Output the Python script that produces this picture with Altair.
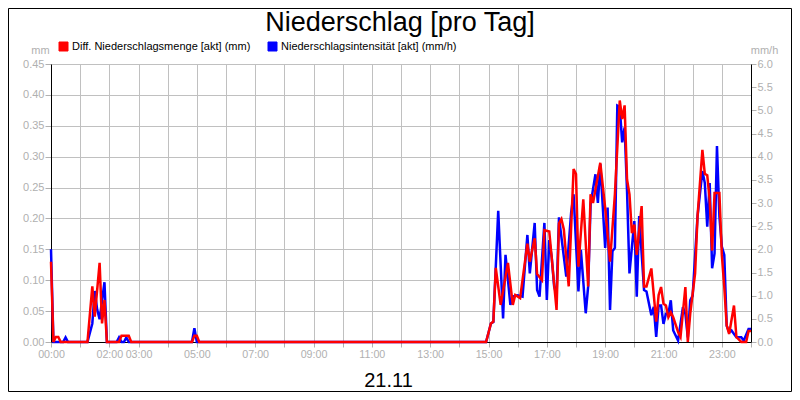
import altair as alt
import pandas as pd

TITLE = "Niederschlag [pro Tag]"
DATE_LABEL = "21.11"
RED = "Diff. Niederschlagsmenge [akt] (mm)"
BLUE = "Niederschlagsintensität [akt] (mm/h)"

# minutes since 00:00 and values (mm)
red_min = [0, 5, 10, 15, 20, 75, 85, 90, 100, 105, 110, 115, 140, 145, 160, 165,
           290, 295, 300, 305, 895, 905, 910, 915, 925, 940, 950, 955, 965, 980,
           985, 995, 1000, 1010, 1015, 1025, 1040, 1045, 1050, 1055, 1065, 1075,
           1080, 1085, 1095, 1105, 1110, 1115, 1130, 1140, 1150, 1160, 1170, 1175,
           1180, 1185, 1190, 1195, 1200, 1205, 1215, 1220, 1225, 1235, 1245, 1250,
           1255, 1260, 1265, 1270, 1275, 1280, 1290, 1295, 1305, 1310, 1315, 1325,
           1330, 1340, 1345, 1350, 1355, 1360, 1365, 1375, 1380, 1385, 1390, 1395,
           1405, 1410, 1420, 1430, 1435, 1440]
red_mm = [0.13, 0, 0.008, 0.008, 0, 0, 0.09, 0.041, 0.128, 0.030, 0.068, 0, 0, 0.01, 0.01, 0,
          0, 0.01, 0.01, 0, 0, 0.030, 0.033, 0.120, 0.060, 0.128, 0.060, 0.076, 0.071, 0.159,
          0.130, 0.168, 0.110, 0.100, 0.181, 0.179, 0.052, 0.192, 0.199, 0.182, 0.090, 0.280,
          0.272, 0.122, 0.231, 0.090, 0.239, 0.225, 0.290, 0.217, 0.130, 0.239, 0.391, 0.361,
          0.383, 0.263, 0.239, 0.176, 0.190, 0.141, 0.220, 0.090, 0.090, 0.119, 0.033, 0.076,
          0.089, 0.062, 0.059, 0.040, 0.048, 0.040, 0.016, 0.008, 0.089, 0, 0.046, 0.111,
          0.203, 0.311, 0.272, 0.270, 0.230, 0.148, 0.241, 0.241, 0.141, 0.089, 0.027, 0.013,
          0.059, 0.008, 0, 0, 0.018, 0.018]

# minutes since 00:00 and values (mm/h)
blue_min = [0, 5, 25, 30, 35, 75, 85, 90, 95, 100, 110, 115, 135, 140, 145, 150, 155, 160,
            290, 295, 300, 895, 905, 910, 920, 930, 935, 945, 950, 960, 970, 980, 985, 995,
            1000, 1005, 1015, 1020, 1025, 1030, 1035, 1040, 1045, 1060, 1070, 1075, 1085, 1090,
            1100, 1105, 1110, 1120, 1125, 1130, 1140, 1145, 1150, 1155, 1160, 1165, 1170,
            1175, 1180, 1185, 1190, 1200, 1205, 1210, 1220, 1225, 1235, 1240, 1245, 1250,
            1255, 1260, 1265, 1270, 1275, 1280, 1290, 1300, 1305, 1310, 1315, 1320, 1330,
            1340, 1345, 1350, 1355, 1360, 1365, 1370, 1375, 1380, 1385, 1390, 1395, 1400,
            1410, 1420, 1425, 1435, 1440]
blue_mmh = [2.0, 0, 0, 0.1, 0, 0, 0.4, 1.1, 0.7, 0.49, 1.29, 0, 0, 0.1, 0, 0, 0.1, 0,
            0, 0.3, 0, 0, 0.40, 0.43, 2.83, 0.51, 1.88, 0.80, 0.98, 1.01, 0.98, 2.31, 1.48, 2.57,
            1.12, 0.98, 2.57, 0.91, 2.2, 1.83, 1.2, 1.0, 2.69, 1.41, 2.79, 3.19, 1.09, 1.99,
            0.62, 1.20, 2.97, 3.62, 3.00, 3.84, 2.03, 2.90, 0.69, 1.96, 2.03, 5.10, 5.07,
            4.31, 4.63, 3.26, 1.48, 2.61, 0.98, 2.72, 1.12, 1.09, 0.58, 0.76, 0.11, 0.79,
            0.79, 0.39, 0.61, 0.61, 0.90, 0.25, 0.03, 0.75, 0.61, 0.10, 0.90, 1.0, 2.71,
            3.69, 3.43, 2.49, 3.43, 1.59, 1.91, 4.23, 2.71, 2.06, 1.88, 0.35, 0.21, 0.25,
            0.10, 0.10, 0.03, 0.28, 0.28]

x_tick_minutes = list(range(0, 1441, 60))
labelled_hours = [0, 2, 3, 5, 7, 9, 11, 13, 15, 17, 19, 21, 23]
left_ticks = [0.0, 0.05, 0.10, 0.15, 0.20, 0.25, 0.30, 0.35, 0.40, 0.45]
right_ticks = [0.0, 0.5, 1.0, 1.5, 2.0, 2.5, 3.0, 3.5, 4.0, 4.5, 5.0, 5.5, 6.0]

FONT = "Liberation Sans"
GRAY = "#b0b0b0"
GRID = "#c0c0c0"

df_r = pd.DataFrame({"t": red_min, "v": red_mm, "s": RED})
df_b = pd.DataFrame({"t": blue_min, "v": blue_mmh, "s": BLUE})
df_all = pd.concat([df_r, df_b], ignore_index=True)

hours_js = "[" + ",".join(str(h) for h in labelled_hours) + "]"
label_expr = (f"indexof({hours_js}, datum.value / 60) >= 0 ? "
              "(datum.value < 600 ? '0' : '') + toString(datum.value / 60) + ':00' : ''")

x_enc = alt.X(
    "t:Q",
    scale=alt.Scale(domain=[0, 1440], nice=False, zero=False),
    axis=alt.Axis(
        values=x_tick_minutes, labelExpr=label_expr, grid=True, gridColor=GRID,
        tickColor=GRAY, tickSize=5, domainColor="black", labelColor=GRAY,
        labelFontSize=10.7, labelPadding=2, labelFont=FONT, labelFlush=False,
        labelOverlap=False,
        title=DATE_LABEL, titleFontSize=20, titleFontWeight="normal", titleColor="black",
        titleFont=FONT, titleX=337, titleY=44, titleAlign="center",
        titleBaseline="alphabetic",
    ),
)

color_enc = alt.Color(
    "s:N",
    scale=alt.Scale(domain=[RED, BLUE], range=["#ff0000", "#0000ff"]),
    legend=alt.Legend(
        orient="none", legendX=7, legendY=-23, direction="horizontal", title=None,
        symbolType="square", symbolSize=81, labelFontSize=11, labelColor="black",
        labelFont=FONT, labelOffset=3, columnPadding=15, padding=0, labelLimit=400,
        symbolStrokeColor="#000000", symbolStrokeWidth=1, symbolOpacity=1,
    ),
)

# invisible filled squares: only there so the legend shows filled square keys
legend_keys = alt.Chart(df_all).mark_square(opacity=0, filled=True).encode(
    x=x_enc,
    y=alt.Y("v:Q", scale=alt.Scale(domain=[0, 6], nice=False), axis=None),
    color=color_enc,
)

blue_line = alt.Chart(df_b).mark_line(strokeWidth=2.5, interpolate="linear").encode(
    x=x_enc,
    y=alt.Y(
        "v:Q",
        scale=alt.Scale(domain=[0, 6], nice=False),
        axis=alt.Axis(
            orient="right", values=right_ticks, format=".1f", grid=False,
            tickColor=GRAY, tickSize=5, domainColor="black", labelColor=GRAY,
            labelFontSize=11, labelPadding=1, labelFont=FONT,
            title="mm/h", titleAngle=0, titleX=13, titleY=-14, titleAlign="center",
            titleBaseline="middle", titleColor=GRAY, titleFontSize=11,
            titleFontWeight="normal", titleFont=FONT,
        ),
    ),
    color=color_enc,
)

red_line = alt.Chart(df_r).mark_line(strokeWidth=2.5, interpolate="linear").encode(
    x=x_enc,
    y=alt.Y(
        "v:Q",
        scale=alt.Scale(domain=[0, 0.45], nice=False),
        axis=alt.Axis(
            orient="left", values=left_ticks, format=".2f", grid=True, gridColor=GRID,
            tickColor=GRAY, tickSize=6, domainColor="black", labelColor=GRAY,
            labelFontSize=11, labelPadding=1, labelFont=FONT,
            title="mm", titleAngle=0, titleX=-11, titleY=-14, titleAlign="center",
            titleBaseline="middle", titleColor=GRAY, titleFontSize=11,
            titleFontWeight="normal", titleFont=FONT,
        ),
    ),
    color=color_enc,
)

title_df = pd.DataFrame({"txt": [TITLE]})
title_text = alt.Chart(title_df).mark_text(
    fontSize=27, font=FONT, align="center", baseline="alphabetic", color="black"
).encode(x=alt.value(349), y=alt.value(-33), text="txt:N")

border = alt.Chart(title_df).mark_rect(filled=False, stroke="black", strokeWidth=1).encode(
    x=alt.value(-42.5), x2=alt.value(740.5), y=alt.value(-55.5), y2=alt.value(327.5)
)

chart = (
    alt.layer(legend_keys, blue_line, red_line, title_text, border)
    .resolve_scale(y="independent")
    .properties(
        width=700, height=278,
        autosize=alt.AutoSizeParams(type="none"),
        padding={"left": 43, "top": 56, "right": 41, "bottom": 50},
        background="white",
    )
    .configure_view(stroke="black", strokeWidth=1)
    .configure(font=FONT)
)

chart.save("out.html", embed_options={"renderer": "svg", "actions": False})
